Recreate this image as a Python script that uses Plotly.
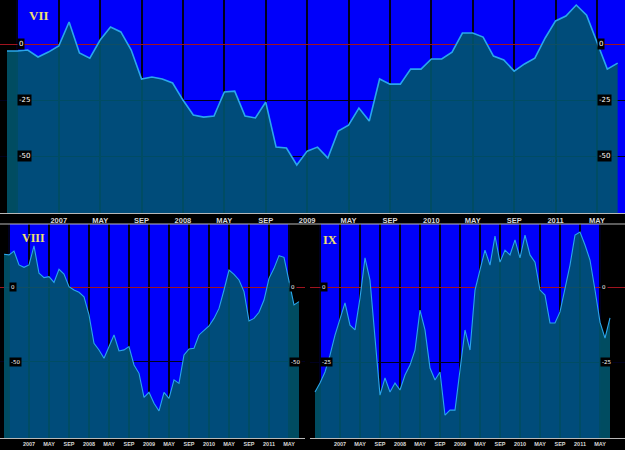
import plotly.graph_objects as go

# month index 0 = Aug 2006 ... 59 = Jul 2011
months = list(range(60))
tick_pos = [1, 5, 9, 13, 17, 21, 25, 29, 33, 37, 41, 45, 49, 53, 57]
tick_txt = ["", "2007", "MAY", "SEP", "2008", "MAY", "SEP", "2009", "MAY", "SEP",
            "2010", "MAY", "SEP", "2011", "MAY"]

vii = [-3.1, -3.1, -2.7, -5.8, -3.6, -0.9, 9.8, -4.0, -6.3, 1.8,
       7.6, 5.4, -2.7, -15.6, -14.7, -15.6, -17.4, -25.0, -31.7, -32.6,
       -32.1, -21.4, -21.0, -32.1, -33.0, -25.9, -46.0, -46.4, -54.0, -47.8,
       -46.0, -50.9, -38.8, -36.2, -28.6, -34.4, -15.6, -17.9, -17.9, -11.2,
       -11.2, -6.7, -6.7, -3.6, 4.9, 4.9, 3.1, -5.4, -7.1, -12.1,
       -8.9, -6.3, 2.7, 10.3, 12.5, 17.4, 12.9, 0.9, -11.2, -8.5]

viii = [22.1, 21.7, 24.3, 15.0, 13.4, 15.0, 27.7, 9.4, 6.5, 7.1,
        3.3, 12.1, 8.9, 0.4, -1.8, -3.3, -6.3, -18.5, -37.5, -42.0,
        -47.5, -39.7, -31.9, -42.6, -41.9, -39.7, -52.0, -57.6, -73.7, -70.3,
        -77.7, -82.8, -70.3, -74.3, -62.0, -64.3, -45.3, -41.3, -40.8, -31.9,
        -29.2, -25.9, -20.8, -14.1, -1.8, 11.6, 8.7, 4.9, -2.9, -22.5,
        -20.8, -16.7, -8.5, 6.0, 12.7, 21.2, 20.1, 3.8, -11.8, -9.6]

ix = [-35.0, -32.0, -28.3, -22.7, -16.0, -10.3, -5.3, -12.7, -14.3, -3.7,
      9.7, 2.3, -17.7, -36.0, -30.3, -35.0, -32.0, -34.3, -29.3, -26.0,
      -21.0, -7.7, -14.3, -27.0, -31.0, -28.3, -42.7, -41.0, -41.0, -27.7,
      -14.3, -21.0, -1.0, 5.7, 12.3, 7.3, 17.0, 8.3, 12.3, 10.7,
      15.7, 9.7, 17.3, 10.7, 8.3, -1.0, -2.7, -12.0, -12.0, -8.3,
      -1.0, 7.3, 17.3, 18.3, 14.0, 9.0, -1.0, -11.7, -17.0, -10.3]

BLUE = "#0000fa"
FILL = "rgba(0,84,107,0.9)"
LINE = "#2aa6ec"
GRID = "#00001e"
RED = "#a0141e"

W, H = 625, 450

fig = go.Figure()

panels = [
    dict(name="VII", y=vii, xa="x", ya="y", xd=(0, 625), yd=(0, 213),
         xr=(-0.676, 59.71), yr=(-75.4, 19.64), yt=[-50, -25, 0], blue=(1, 70),
         tpos=(0.043, 0.965), lw=1.6, tfs=7.5, lfs=7, tts=13, lab=["-50", "-25", "0"]),
    dict(name="VIII", y=viii, xa="x2", ya="y2", xd=(0, 305), yd=(224, 438),
         xr=(-0.8, 60.2), yr=(-100.9, 42.4), yt=[-50, 0], blue=(1, 57),
         tpos=(0.032, 0.472), lw=1.1, tfs=5.5, lfs=5.5, tts=12, lab=["-50", "0"]),
    dict(name="IX", y=ix, xa="x3", ya="y3", xd=(310, 625), yd=(224, 438),
         xr=(-1.0, 62.0), yr=(-50.3, 21.0), yt=[-25, 0], blue=(1, 57),
         tpos=(0.514, 0.466), lw=1.1, tfs=5.5, lfs=5.5, tts=12.5, lab=["-25", "0"]),
]

layout = dict(width=W, height=H, margin=dict(l=0, r=0, t=0, b=0),
              paper_bgcolor="black", plot_bgcolor="black", showlegend=False)
shapes = []
annotations = []

for i, p in enumerate(panels):
    sfx = "" if i == 0 else str(i + 1)
    fig.add_trace(go.Scatter(x=months, y=[-1000] * len(months), xaxis=p["xa"], yaxis=p["ya"],
                             mode="lines", line=dict(width=0), hoverinfo="skip"))
    fig.add_trace(go.Scatter(x=months, y=p["y"], xaxis=p["xa"], yaxis=p["ya"],
                             mode="lines", fill="tonexty", fillcolor=FILL,
                             line=dict(color=LINE, width=p["lw"])))
    xdom = [p["xd"][0] / W, p["xd"][1] / W]
    ydom = [1 - p["yd"][1] / H, 1 - p["yd"][0] / H]
    layout["xaxis" + sfx] = dict(domain=xdom, range=list(p["xr"]), tickvals=tick_pos, ticktext=tick_txt,
                                 showgrid=True, gridcolor=GRID, gridwidth=2, zeroline=False,
                                 showline=True, linecolor="#b8b8b8", linewidth=1,
                                 ticks="", tickfont=dict(family="Liberation Sans", size=p["tfs"],
                                                         color="#d8d8d8", weight="bold"),
                                 anchor=p["ya"], fixedrange=True)
    layout["yaxis" + sfx] = dict(domain=ydom, range=list(p["yr"]), tickvals=p["yt"],
                                 showticklabels=False, showgrid=True, gridcolor=GRID, gridwidth=1,
                                 zeroline=True, zerolinecolor=RED, zerolinewidth=1,
                                 anchor=p["xa"], fixedrange=True)
    shapes.append(dict(type="rect", xref=p["xa"], yref=p["ya"] + " domain",
                       x0=p["blue"][0], x1=p["blue"][1], y0=0, y1=1,
                       fillcolor=BLUE, line=dict(width=0), layer="below"))
    for v, t in zip(p["yt"], p["lab"]):
        for xpos in (1, 57):
            annotations.append(dict(x=xpos, y=v, xref=p["xa"], yref=p["ya"], text=t,
                                    showarrow=False, xanchor="left", yanchor="middle",
                                    bgcolor="black", borderpad=1,
                                    font=dict(family="DejaVu Sans", size=p["lfs"], color="white")))
    annotations.append(dict(x=p["tpos"][0], y=p["tpos"][1], xref="paper", yref="paper",
                            text="<b>%s</b>" % p["name"], showarrow=False,
                            xanchor="left", yanchor="middle",
                            font=dict(family="Liberation Serif", size=p["tts"], color="#f0e070")))

shapes.append(dict(type="line", xref="paper", yref="paper", x0=0, x1=1,
                   y0=1 - 224 / H, y1=1 - 224 / H, line=dict(color="#b8b8b8", width=1)))

layout["shapes"] = shapes
layout["annotations"] = annotations
fig.update_layout(**layout)
fig.write_html("out.html")
